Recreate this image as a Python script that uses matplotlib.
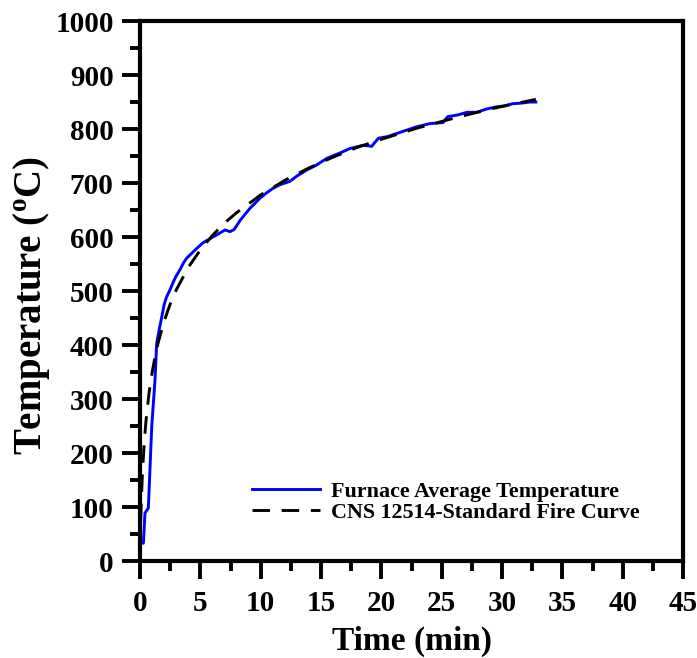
import matplotlib
matplotlib.use("Agg")
import matplotlib.pyplot as plt

# CNS 12514 standard fire curve
std_time = [0, 0.1, 0.2, 0.35, 0.5, 0.75, 1, 1.25, 1.5, 2, 2.5, 3, 4, 5, 6, 7, 8,
            10, 12, 14, 16, 18, 20, 23, 26, 29, 32.8]
std_temp = [20, 108, 163, 220, 261, 312, 349, 379, 404, 444, 476, 502, 544, 576,
            603, 626, 645, 678, 705, 728, 748, 766, 781, 802, 820, 837, 855]

# furnace average temperature
fur_time = [0.17, 0.28, 0.41, 0.69, 0.97, 1.24, 1.38, 1.6, 1.8, 2.0, 2.2, 2.5, 2.76,
            3.0, 3.3, 3.6, 3.87, 4.2, 4.56, 4.9, 5.2, 5.8, 6.35, 7.04, 7.46, 7.8,
            8.3, 8.7, 9.1, 9.5, 9.94, 10.5, 11.0, 11.6, 12.4, 13.0, 13.8, 14.6,
            15.5, 16.5, 17.4, 18.5, 19.2, 19.75, 20.5, 21.3, 22.1, 22.9, 24.0,
            25.1, 25.5, 26.3, 27.1, 27.9, 28.7, 29.5, 30.2, 30.9, 31.6, 32.3, 32.8]
fur_temp = [33, 33, 89, 98, 249, 335, 403, 430, 452, 475, 489, 503, 517,
            528, 539, 552, 561, 568, 576, 583, 589, 597, 604, 613, 610, 614,
            631, 642, 653, 662, 672, 682, 690, 697, 703, 713, 724, 733,
            746, 755, 764, 770, 768, 783, 786, 792, 798, 804, 810,
            812, 823, 826, 831, 831, 837, 841, 843, 847, 848, 850, 850]

x_ticks = [0, 5, 10, 15, 20, 25, 30, 35, 40, 45]
y_ticks = [0, 100, 200, 300, 400, 500, 600, 700, 800, 900, 1000]

plt.rcParams["font.family"] = ["Liberation Serif", "DejaVu Serif"]
plt.rcParams["font.weight"] = "bold"
plt.rcParams["mathtext.fontset"] = "custom"
plt.rcParams["mathtext.rm"] = "Liberation Serif:bold"
plt.rcParams["mathtext.bf"] = "Liberation Serif:bold"

fig = plt.figure(figsize=(6.97, 6.58), dpi=100)
ax = fig.add_axes([0.2009, 0.1474, 0.7791, 0.8206])

ax.plot(fur_time, fur_temp, color="#0000ff", lw=2.1,
        label="Furnace Average Temperature")
ax.plot(std_time, std_temp, color="black", lw=2.1, dashes=(6, 4),
        label="CNS 12514-Standard Fire Curve")

ax.set_xlim(0, 45)
ax.set_ylim(0, 1000)
ax.set_xticks(x_ticks)
ax.set_yticks(y_ticks)
ax.set_xticks([t + 2.5 for t in x_ticks[:-1]], minor=True)
ax.set_yticks([v + 50 for v in y_ticks[:-1]], minor=True)

for s in ax.spines.values():
    s.set_linewidth(3.0)

ax.tick_params(which="major", direction="out", length=13, width=2.8,
               labelsize=21, pad=6, top=False, right=False)
ax.tick_params(which="minor", direction="out", length=7, width=2.8,
               top=False, right=False)
ax.tick_params(axis="x", which="major", pad=8)
for lab in ax.get_xticklabels() + ax.get_yticklabels():
    lab.set_fontweight("bold")

ax.set_xlabel("Time (min)", fontsize=24, fontweight="bold", labelpad=6)
ax.set_ylabel(r"Temperature ($\mathregular{^o}$C)", fontsize=28,
              fontweight="bold")
ax.yaxis.set_label_coords(-0.163, 0.474)

leg = ax.legend(loc="lower right", bbox_to_anchor=(0.937, 0.054), frameon=False,
                fontsize=15.8, handlelength=3.1, handletextpad=0.5,
                labelspacing=0.05, borderaxespad=0)
for t in leg.get_texts():
    t.set_fontweight("bold")

fig.savefig("out.png", dpi=100)
